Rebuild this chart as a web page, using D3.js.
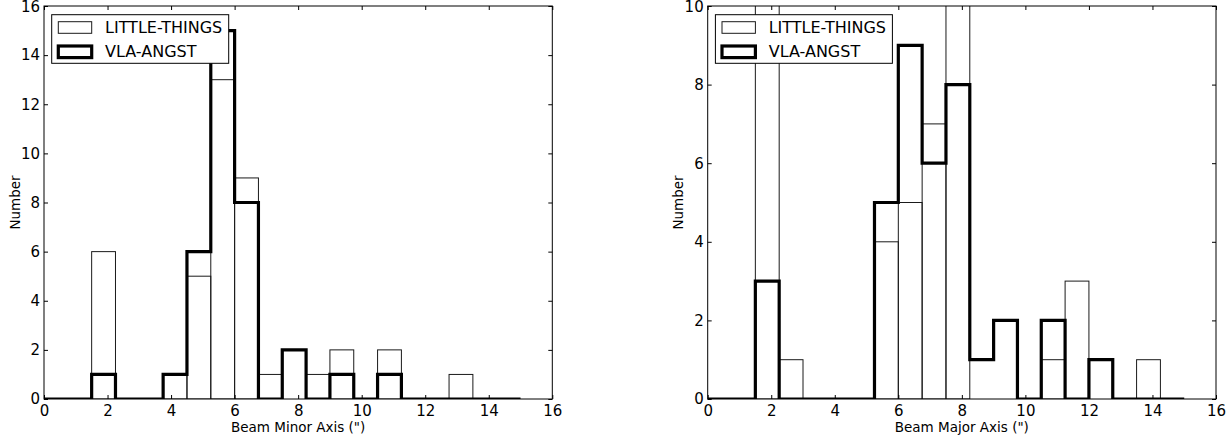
<!DOCTYPE html>
<html>
<head>
<meta charset="utf-8">
<script src="https://cdn.jsdelivr.net/npm/d3@7"></script>
<style>
  html, body { margin: 0; padding: 0; background: #fff; }
  svg { display: block; font-family: "DejaVu Sans", sans-serif; }
</style>
</head>
<body>
<svg id="chart" width="1232" height="440"></svg>
<script>
// Histogram bin edges (arcsec), shared by both panels
const binEdges = [0, 0.75, 1.5, 2.25, 3, 3.75, 4.5, 5.25, 6, 6.75, 7.5,
                  8.25, 9, 9.75, 10.5, 11.25, 12, 12.75, 13.5, 14.25, 15];

// Beam minor axis counts per bin
const minorLittleThings = [0, 0, 6, 0, 0, 1, 5, 13, 9, 1, 0, 1, 2, 0, 2, 0, 0, 1, 0, 0];
const minorVlaAngst     = [0, 0, 1, 0, 0, 1, 6, 15, 8, 0, 2, 0, 1, 0, 1, 0, 0, 0, 0, 0];

// Beam major axis counts per bin
const majorLittleThings = [0, 0, 11, 1, 0, 0, 0, 4, 5, 7, 11, 0, 0, 0, 1, 3, 0, 0, 1, 0];
const majorVlaAngst     = [0, 0, 3, 0, 0, 0, 0, 5, 9, 6, 8, 1, 2, 0, 2, 0, 1, 0, 0, 0];

const xTicks = [0, 2, 4, 6, 8, 10, 12, 14, 16];
const minorYTicks = [0, 2, 4, 6, 8, 10, 12, 14, 16];
const majorYTicks = [0, 2, 4, 6, 8, 10];
const seriesNames = ["LITTLE-THINGS", "VLA-ANGST"];

const svg = d3.select("#chart");

const panels = [
  { left: 44, xLabel: 'Beam Minor Axis (")', yMax: 16, yTicks: minorYTicks,
    lt: minorLittleThings, vla: minorVlaAngst, id: "minor" },
  { left: 707.7, xLabel: 'Beam Major Axis (")', yMax: 10, yTicks: majorYTicks,
    lt: majorLittleThings, vla: majorVlaAngst, id: "major" }
];

const plotTop = 6, plotBottom = 399, plotWidth = 508.3;
const tickLen = 4;

panels.forEach(p => {
  const x = d3.scaleLinear().domain([0, 16]).range([p.left, p.left + plotWidth]);
  const y = d3.scaleLinear().domain([0, p.yMax]).range([plotBottom, plotTop]);

  const g = svg.append("g");

  svg.append("clipPath").attr("id", "clip-" + p.id)
    .append("rect")
    .attr("x", p.left).attr("y", plotTop)
    .attr("width", plotWidth).attr("height", plotBottom - plotTop);

  const plot = g.append("g").attr("clip-path", `url(#clip-${p.id})`);

  // LITTLE-THINGS: outlined bars
  const bins = p.lt.map((v, i) => ({ x0: binEdges[i], x1: binEdges[i + 1], v }));
  plot.selectAll("rect.lt")
    .data(bins.filter(b => b.v > 0))
    .join("rect")
    .attr("class", "lt")
    .attr("x", b => x(b.x0))
    .attr("width", b => x(b.x1) - x(b.x0))
    .attr("y", b => y(b.v))
    .attr("height", b => y(0) - y(b.v))
    .attr("fill", "none")
    .attr("stroke", "#1a1a1a")
    .attr("stroke-width", 1);

  // VLA-ANGST: thick step outline
  const pts = [[binEdges[0], 0]];
  p.vla.forEach((v, i) => {
    pts.push([binEdges[i], v]);
    pts.push([binEdges[i + 1], v]);
  });
  pts.push([binEdges[binEdges.length - 1], 0]);
  plot.append("path")
    .attr("d", d3.line().x(d => x(d[0])).y(d => y(d[1]))(pts))
    .attr("fill", "none")
    .attr("stroke", "#000")
    .attr("stroke-width", 3.2)
    .attr("stroke-linejoin", "miter");

  // Frame
  g.append("rect")
    .attr("x", p.left).attr("y", plotTop)
    .attr("width", plotWidth).attr("height", plotBottom - plotTop)
    .attr("fill", "none").attr("stroke", "#000").attr("stroke-width", 1);

  // Inward ticks on all four sides
  const axB = d3.axisBottom(x).tickValues(xTicks).tickSize(-tickLen).tickPadding(8)
    .tickFormat(d3.format("d"));
  const axT = d3.axisTop(x).tickValues(xTicks).tickSize(-tickLen).tickFormat("");
  const axL = d3.axisLeft(y).tickValues(p.yTicks).tickSize(-tickLen).tickPadding(8)
    .tickFormat(d3.format("d"));
  const axR = d3.axisRight(y).tickValues(p.yTicks).tickSize(-tickLen).tickFormat("");

  const styleAxis = sel => {
    sel.select(".domain").remove();
    sel.selectAll(".tick line").attr("stroke", "#000").attr("stroke-width", 1);
    sel.selectAll(".tick text").attr("fill", "#000")
      .style("font-family", "DejaVu Sans, sans-serif").style("font-size", "15px");
  };

  g.append("g").attr("transform", `translate(0,${plotBottom})`).call(axB).call(styleAxis)
    .selectAll(".tick text").attr("y", 17).attr("dy", null);
  g.append("g").attr("transform", `translate(0,${plotTop})`).call(axT).call(styleAxis);
  const yAxisG = g.append("g").attr("transform", `translate(${p.left},0)`).call(axL).call(styleAxis);
  yAxisG.selectAll(".tick text").attr("x", -4);
  // keep the top label just inside the page
  yAxisG.selectAll(".tick text").filter(d => d === p.yMax).attr("dy", "0.38em");
  g.append("g").attr("transform", `translate(${p.left + plotWidth},0)`).call(axR).call(styleAxis);

  // Axis titles
  g.append("text")
    .attr("x", p.left + plotWidth / 2).attr("y", 432)
    .attr("text-anchor", "middle")
    .style("font-size", "13.5px")
    .text(p.xLabel);
  g.append("text")
    .attr("transform", `translate(${p.left - 24.5},${(plotTop + plotBottom) / 2}) rotate(-90)`)
    .attr("text-anchor", "middle")
    .style("font-size", "13.5px")
    .text("Number");

  // Legend
  const lg = g.append("g").attr("transform", `translate(${p.left + 7.7},${plotTop + 8.7})`);
  lg.append("rect")
    .attr("x", 0).attr("y", 0).attr("width", 177).attr("height", 48.6)
    .attr("fill", "#fff").attr("stroke", "#000").attr("stroke-width", 1);
  lg.append("rect")
    .attr("x", 6.6).attr("y", 7).attr("width", 33.4).attr("height", 11.6)
    .attr("fill", "#fff").attr("stroke", "#1a1a1a").attr("stroke-width", 1);
  lg.append("rect")
    .attr("x", 6.6).attr("y", 31.3).attr("width", 33.4).attr("height", 11.6)
    .attr("fill", "#fff").attr("stroke", "#000").attr("stroke-width", 3.2);
  lg.selectAll("text.leg")
    .data(seriesNames)
    .join("text")
    .attr("class", "leg")
    .attr("x", 53.3)
    .attr("y", (d, i) => 18.8 + i * 24)
    .style("font-size", "16px")
    .text(d => d);
});
</script>
</body>
</html>
